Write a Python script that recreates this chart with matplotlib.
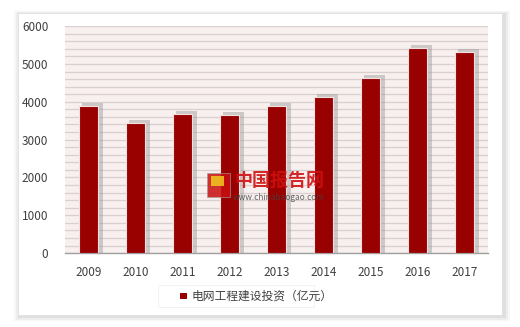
import matplotlib
matplotlib.use('Agg')
from matplotlib import pyplot as plt
from matplotlib.patches import Rectangle
import numpy as np

plt.rcParams['font.family'] = ['Noto Sans CJK SC', 'DejaVu Sans']

years = ['2009', '2010', '2011', '2012', '2013', '2014', '2015', '2016', '2017']
invest = [3898, 3448, 3687, 3661, 3894, 4119, 4640, 5431, 5315]
series_name = '电网工程建设投资（亿元）'

bar_color = '#990000'
text_color = '#404040'

fig = plt.figure(figsize=(5.2, 3.27), dpi=100)
fig.patch.set_facecolor('white')

# outer frame with soft shadow
for i, a in enumerate([0.03, 0.04, 0.06]):
    d = (3 - i) * 0.004
    fig.patches.append(Rectangle((0.035 - d + 0.004, 0.036 - d - 0.006), 0.93 + 2 * d, 0.925 + 2 * d,
                                 transform=fig.transFigure, facecolor='black', alpha=a,
                                 edgecolor='none', zorder=0))
fig.patches.append(Rectangle((0.035, 0.036), 0.93, 0.925, transform=fig.transFigure,
                             facecolor='white', edgecolor='#e0e0e0', lw=0.6, zorder=1))

ax = fig.add_axes([0.125, 0.226, 0.814, 0.694])
ax.set_facecolor('#f8efef')
ax.set_zorder(2)

x = np.arange(len(years))
ax.set_yticks(np.arange(0, 6001, 200), minor=True)
ax.yaxis.grid(True, which='both', color='#d9cfcf', lw=0.9)
ax.set_axisbelow(True)

# shadow bars
ax.bar(x + 0.08, np.array(invest) + 80, width=0.44, color='#9a9a9a', alpha=0.45, zorder=2)
ax.bar(x, invest, width=0.4, color=bar_color, edgecolor='#f2e0e0', lw=0.8, zorder=3)

ax.set_xlim(-0.5, len(years) - 0.5)
ax.set_ylim(0, 6000)
ax.set_yticks(np.arange(0, 6001, 1000))
ax.set_xticks(x)
ax.set_xticklabels(years)
ax.tick_params(axis='both', which='both', length=0, labelsize=8.5, colors=text_color)
ax.tick_params(axis='x', pad=9)
ax.tick_params(axis='y', pad=12)
for s in ['top', 'right', 'left']:
    ax.spines[s].set_visible(False)
ax.spines['bottom'].set_color('#a0a0a0')
ax.spines['bottom'].set_linewidth(1.0)

# watermark
ax.add_patch(Rectangle((2.52, 1480), 0.48, 640, facecolor='#c81010', edgecolor='#a0a0a0',
                       lw=0.5, alpha=0.85, zorder=4))
ax.add_patch(Rectangle((2.6, 1780), 0.28, 260, facecolor='#f0c020', edgecolor='none',
                       alpha=0.9, zorder=5))
ax.text(4.05, 1930, '中国报告网', color='#d01010', fontsize=13, fontweight='bold',
        ha='center', va='center', alpha=0.9, zorder=4)
ax.text(4.05, 1480, 'www.chinabaogao.com', color='#444444', fontsize=6,
        ha='center', va='center', alpha=0.8, zorder=4)

# legend box
fig.patches.append(Rectangle((0.304, 0.062), 0.3, 0.066, transform=fig.transFigure,
                             facecolor='white', edgecolor='#eeeeee', lw=0.5, zorder=3))
fig.patches.append(Rectangle((0.347, 0.085), 0.012, 0.02, transform=fig.transFigure,
                             facecolor=bar_color, edgecolor='none', zorder=4))
fig.text(0.368, 0.095, series_name, fontsize=8.5, color=text_color, va='center', zorder=5)

fig.savefig('out.png', dpi=100)
